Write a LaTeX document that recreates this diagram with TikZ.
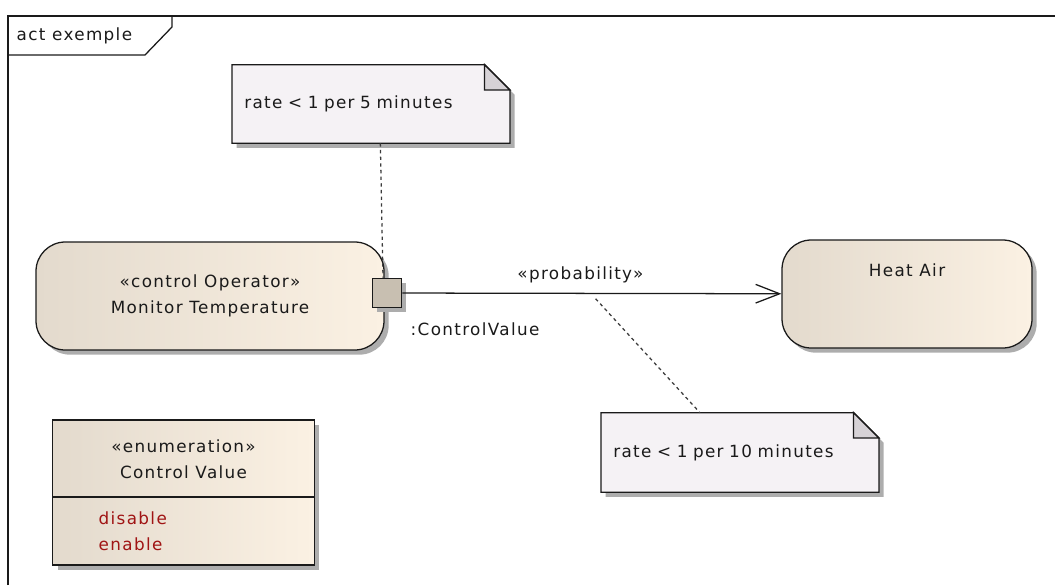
\documentclass[tikz,border=0pt]{standalone}
\usepackage{fontspec}
\setmainfont{DejaVu Sans}[LetterSpace=8]
\usetikzlibrary{arrows.meta,shadows,backgrounds}

\definecolor{actleft}{HTML}{E3DACD}
\definecolor{actright}{HTML}{FBF1E3}
\definecolor{notefill}{HTML}{F5F2F5}
\definecolor{foldfill}{HTML}{D6D2D6}
\definecolor{portfill}{HTML}{C8BFB1}
\definecolor{litred}{HTML}{A01414}
\definecolor{ink}{HTML}{1A1A1A}

\tikzset{
  umltext/.style={font=\fontsize{12.6}{19.5}\selectfont, text=ink},
  umlline/.style={line width=0.95pt, draw=ink},
  umlshadow/.style={drop shadow={shadow xshift=3.5pt, shadow yshift=-3.5pt, fill=black!32, opacity=1}},
  action/.style={umltext, umlline, umlshadow, rounded corners=22pt, left color=actleft, right color=actright, align=center, minimum height=81pt},
  portbox/.style={umlline, umlshadow, fill=portfill, minimum size=22pt, inner sep=0pt},
  classbox/.style={umlline, umlshadow, left color=actleft, right color=actright, minimum width=196pt, minimum height=108.75pt},
  notetext/.style={umltext, minimum width=208pt, text width=190pt, inner xsep=8pt, align=left},
  notebody/.style={umlline, umlshadow, fill=notefill},
  noteline/.style={line width=0.95pt, draw=ink!85, dash pattern=on 2.5pt off 2.5pt},
}

\begin{document}
\begin{tikzpicture}[x=0.75pt, y=-0.75pt]
\useasboundingbox (0,0) rectangle (1055,585);

% frame
\draw[umlline] (8,585) -- (8,16) -- (1055,16);
\draw[umlline] (8,55) -- (145,55) -- (172,27) -- (172,16);
\node[umltext, anchor=west] (frametitle) at (12,36) {act exemple};

% actions
\node[action, minimum width=261pt] (monitor) at (210,296) {«control Operator»\\Monitor Temperature};
\node[action, minimum width=187.5pt, text depth=36pt] (heat) at (907,294) {Heat Air};
\node[portbox] (port) at (387,293) {};
\node[umltext, anchor=west] (portlabel) at (406,329) {:ControlValue};

% notes
\node[notetext, minimum height=58.5pt] (n5) at (371,104) {rate < 1 per 5 minutes};
\node[notetext, minimum height=59.25pt] (n10) at (740,452.5) {rate < 1 per 10 minutes};
\begin{scope}[on background layer]
\draw[notebody] (n5.north west) -- ([xshift=-19pt]n5.north east) -- ([yshift=-19pt]n5.north east) -- (n5.south east) -- (n5.south west) -- cycle;
\draw[umlline, fill=foldfill] ([xshift=-19pt]n5.north east) -- ([xshift=-19pt,yshift=-19pt]n5.north east) -- ([yshift=-19pt]n5.north east) -- cycle;
\draw[notebody] (n10.north west) -- ([xshift=-19pt]n10.north east) -- ([yshift=-19pt]n10.north east) -- (n10.south east) -- (n10.south west) -- cycle;
\draw[umlline, fill=foldfill] ([xshift=-19pt]n10.north east) -- ([xshift=-19pt,yshift=-19pt]n10.north east) -- ([yshift=-19pt]n10.north east) -- cycle;
\end{scope}

% flow
\draw[umlline, umltext, -{Straight Barb[length=18pt,width=14pt]}] (port) -- (heat)
  node[pos=0.47, above=4pt] (problabel) {«probability»}
  coordinate[pos=0.51] (probmid);
\draw[noteline] ([xshift=7pt]n5.south) -- ([xshift=-3pt]port.north);
\draw[noteline] ([yshift=-4pt]probmid) -- ([xshift=-30pt]n10.north);

% enumeration
\node[classbox] (enum) at (183.5,492.5) {};
\node[umltext, align=center] (enumname) at (183.5,459.5) {«enumeration»\\Control Value};
\coordinate (enumdiv) at (0,497);
\draw[umlline] (enum.west |- enumdiv) -- (enum.east |- enumdiv);
\node[umltext, text=litred, align=left, anchor=west] (enumlit) at (94,531.5) {disable\\enable};

\end{tikzpicture}
\end{document}
